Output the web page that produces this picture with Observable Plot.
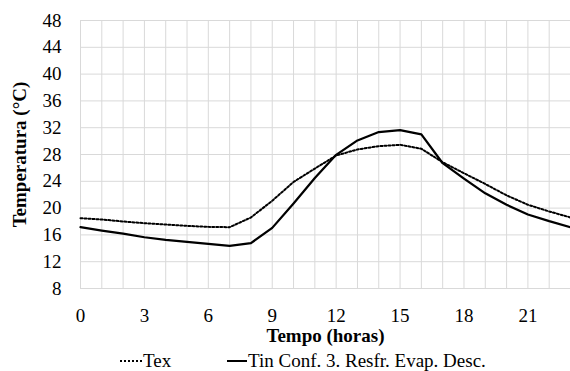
<!DOCTYPE html>
<html>
<head>
<meta charset="utf-8">
<script src="https://cdn.jsdelivr.net/npm/d3@7"></script>
<script src="https://cdn.jsdelivr.net/npm/@observablehq/plot@0.6"></script>
<style>
  html, body { margin: 0; padding: 0; background: #fff; }
  body { width: 570px; height: 371px; overflow: hidden; font-family: "Liberation Serif", "Times New Roman", Times, "DejaVu Serif", serif; }
  svg, svg text { font-family: "Liberation Serif", "Times New Roman", Times, "DejaVu Serif", serif !important; }
  #legend { position: relative; height: 21px; font-size: 19px; color: #000; }
  .item { position: absolute; top: 0; display: flex; align-items: center; white-space: nowrap; line-height: 21px; }
  .item svg { margin-right: 1px; }
</style>
</head>
<body>
<div id="chart"></div>
<div id="legend"></div>
<script>
const hours = d3.range(0, 24);
const tex = [18.5, 18.3, 18.0, 17.75, 17.55, 17.35, 17.2, 17.15, 18.6, 21.1, 23.9, 25.9, 27.85, 28.75, 29.25, 29.45, 28.85, 26.85, 25.2, 23.6, 21.9, 20.5, 19.5, 18.6];
const tin = [17.15, 16.65, 16.2, 15.65, 15.25, 14.95, 14.67, 14.37, 14.77, 17.05, 20.7, 24.5, 27.95, 30.1, 31.35, 31.65, 31.0, 26.7, 24.4, 22.2, 20.5, 19.05, 18.05, 17.15];
const xTicks = [0, 3, 6, 9, 12, 15, 18, 21];
const yTicks = [8, 12, 16, 20, 24, 28, 32, 36, 40, 44, 48];
const seriesNames = ["Tex", "Tin Conf. 3. Resfr. Evap. Desc."];

const texData = hours.map((h, i) => ({h, v: tex[i]}));
const tinData = hours.map((h, i) => ({h, v: tin[i]}));

const chart = Plot.plot({
  width: 570,
  height: 350,
  marginLeft: 80,
  marginRight: 0,
  marginTop: 20,
  marginBottom: 62,
  style: {fontFamily: "'Liberation Serif', 'Times New Roman', serif", fontSize: "19px", color: "#000", background: "#fff"},
  x: {domain: [0, 23]},
  y: {domain: [8, 48]},
  marks: [
    Plot.gridX(hours, {stroke: "#d9d9d9", strokeOpacity: 1, strokeWidth: 1}),
    Plot.gridY(d3.range(8, 49, 4), {stroke: "#d9d9d9", strokeOpacity: 1, strokeWidth: 1}),
    Plot.axisX({ticks: xTicks, tickSize: 0, tickPadding: 20, label: "Tempo (horas)", labelAnchor: "center", labelArrow: "none", labelOffset: 53, fontSize: 19}),
    Plot.axisY({ticks: yTicks, tickSize: 0, tickPadding: 19, label: "Temperatura (°C)", labelAnchor: "center", labelArrow: "none", labelOffset: 68, fontSize: 19}),
    Plot.line(texData, {x: "h", y: "v", stroke: "#000", strokeWidth: 2, strokeDasharray: "2,2"}),
    Plot.line(tinData, {x: "h", y: "v", stroke: "#000", strokeWidth: 2.25})
  ]
});
document.getElementById("chart").appendChild(chart);
d3.select(chart).selectAll("[aria-label='x-axis label'] text, [aria-label='y-axis label'] text").style("font-weight", "bold");

const legend = document.getElementById("legend");
const items = [
  {name: seriesNames[0], left: 120, dash: "2,2", w: 22},
  {name: seriesNames[1], left: 227, dash: null, w: 20}
];
for (const it of items) {
  const div = document.createElement("div");
  div.className = "item";
  div.style.left = it.left + "px";
  div.innerHTML = `<svg width="${it.w}" height="10"><line x1="0" x2="${it.w}" y1="5" y2="5" stroke="#000" stroke-width="2" ${it.dash ? `stroke-dasharray="${it.dash}"` : ""}/></svg><span>${it.name}</span>`;
  legend.appendChild(div);
}
</script>
</body>
</html>
